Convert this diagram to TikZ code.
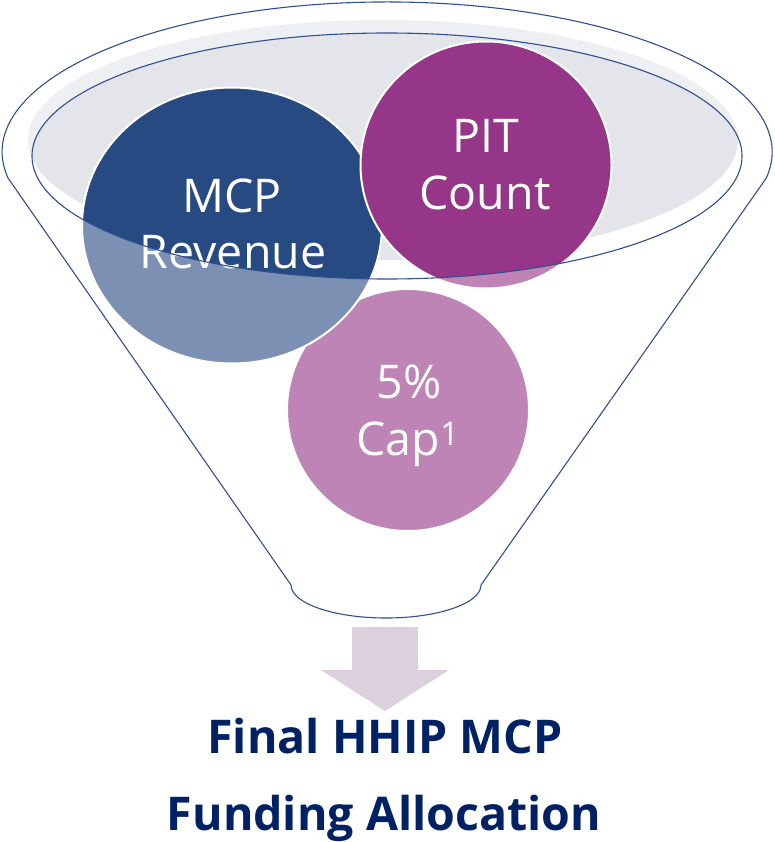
\documentclass[tikz,border=0pt]{standalone}
\usepackage{fontspec}
\setmainfont{Open Sans}
\usetikzlibrary{shapes.geometric}
\definecolor{bowlgray}{HTML}{E4E5EA}
\definecolor{mcpblue}{HTML}{284A83}
\definecolor{pitmag}{HTML}{963689}
\definecolor{lineblue}{HTML}{2F5090}
\definecolor{arrowlav}{HTML}{DCD0DC}
\definecolor{titlenavy}{HTML}{002163}
\tikzset{
  bubble/.style={ellipse, inner sep=0pt, draw=white, line width=2pt},
  bubtext/.style={text=white, inner sep=0pt, anchor=base, font=\fontsize{46.5}{56}\selectfont},
  titletext/.style={text=titlenavy, inner sep=0pt, anchor=base, font=\bfseries\fontsize{46.5}{77}\selectfont},
  outline/.style={draw=lineblue, line width=1.1pt},
}
\begin{document}
\begin{tikzpicture}[x=1pt,y=1pt,yscale=-1]
\useasboundingbox (0,0) rectangle (774,842);
% bowl
\fill[bowlgray] (383,140) ellipse [x radius=355, y radius=120];
% bubbles
\node[bubble, fill=pitmag, minimum width=242pt, minimum height=242pt] (cap) at (408,410) {};
\node[bubble, fill=mcpblue, minimum width=300pt, minimum height=276pt] (mcp) at (232,225.5) {};
\node[bubble, fill=pitmag, minimum width=251pt, minimum height=247pt] (pit) at (486,165) {};
% texts
\node[bubtext] (mcp1) at (232,212) {MCP};
\node[bubtext] (mcp2) at (233,268) {Revenue};
\node[bubtext] (pit1) at (486,153) {PIT};
\node[bubtext] (pit2) at (485,210) {Count};
\node[bubtext] (cap1) at (409,398) {5\%};
\node[bubtext] (cap2) at (408,455) {Cap\textsuperscript{1}};
% translucent funnel body
\fill[white, fill opacity=0.39, even odd rule]
  (8,178) arc[start angle=170, end angle=370, x radius=385, y radius=150]
  -- (481,585) arc[start angle=0, end angle=180, x radius=95, y radius=33] -- cycle
  (387,156) ellipse [x radius=355, y radius=123];
% outlines
\draw[outline, line join=round]
  (8,178) arc[start angle=170, end angle=370, x radius=385, y radius=150]
  -- (481,585) arc[start angle=0, end angle=180, x radius=95, y radius=33] -- cycle;
\draw[outline] (387,156) ellipse [x radius=355, y radius=123];
% arrow
\fill[arrowlav] (352,627) -- (418,627) -- (418,670) -- (449,670) -- (385,711)
  -- (321,670) -- (352,670) -- cycle;
% title
\node[titletext] (title1) at (385,753) {Final HHIP MCP};
\node[titletext] (title2) at (384,830) {Funding Allocation};
\end{tikzpicture}
\end{document}
